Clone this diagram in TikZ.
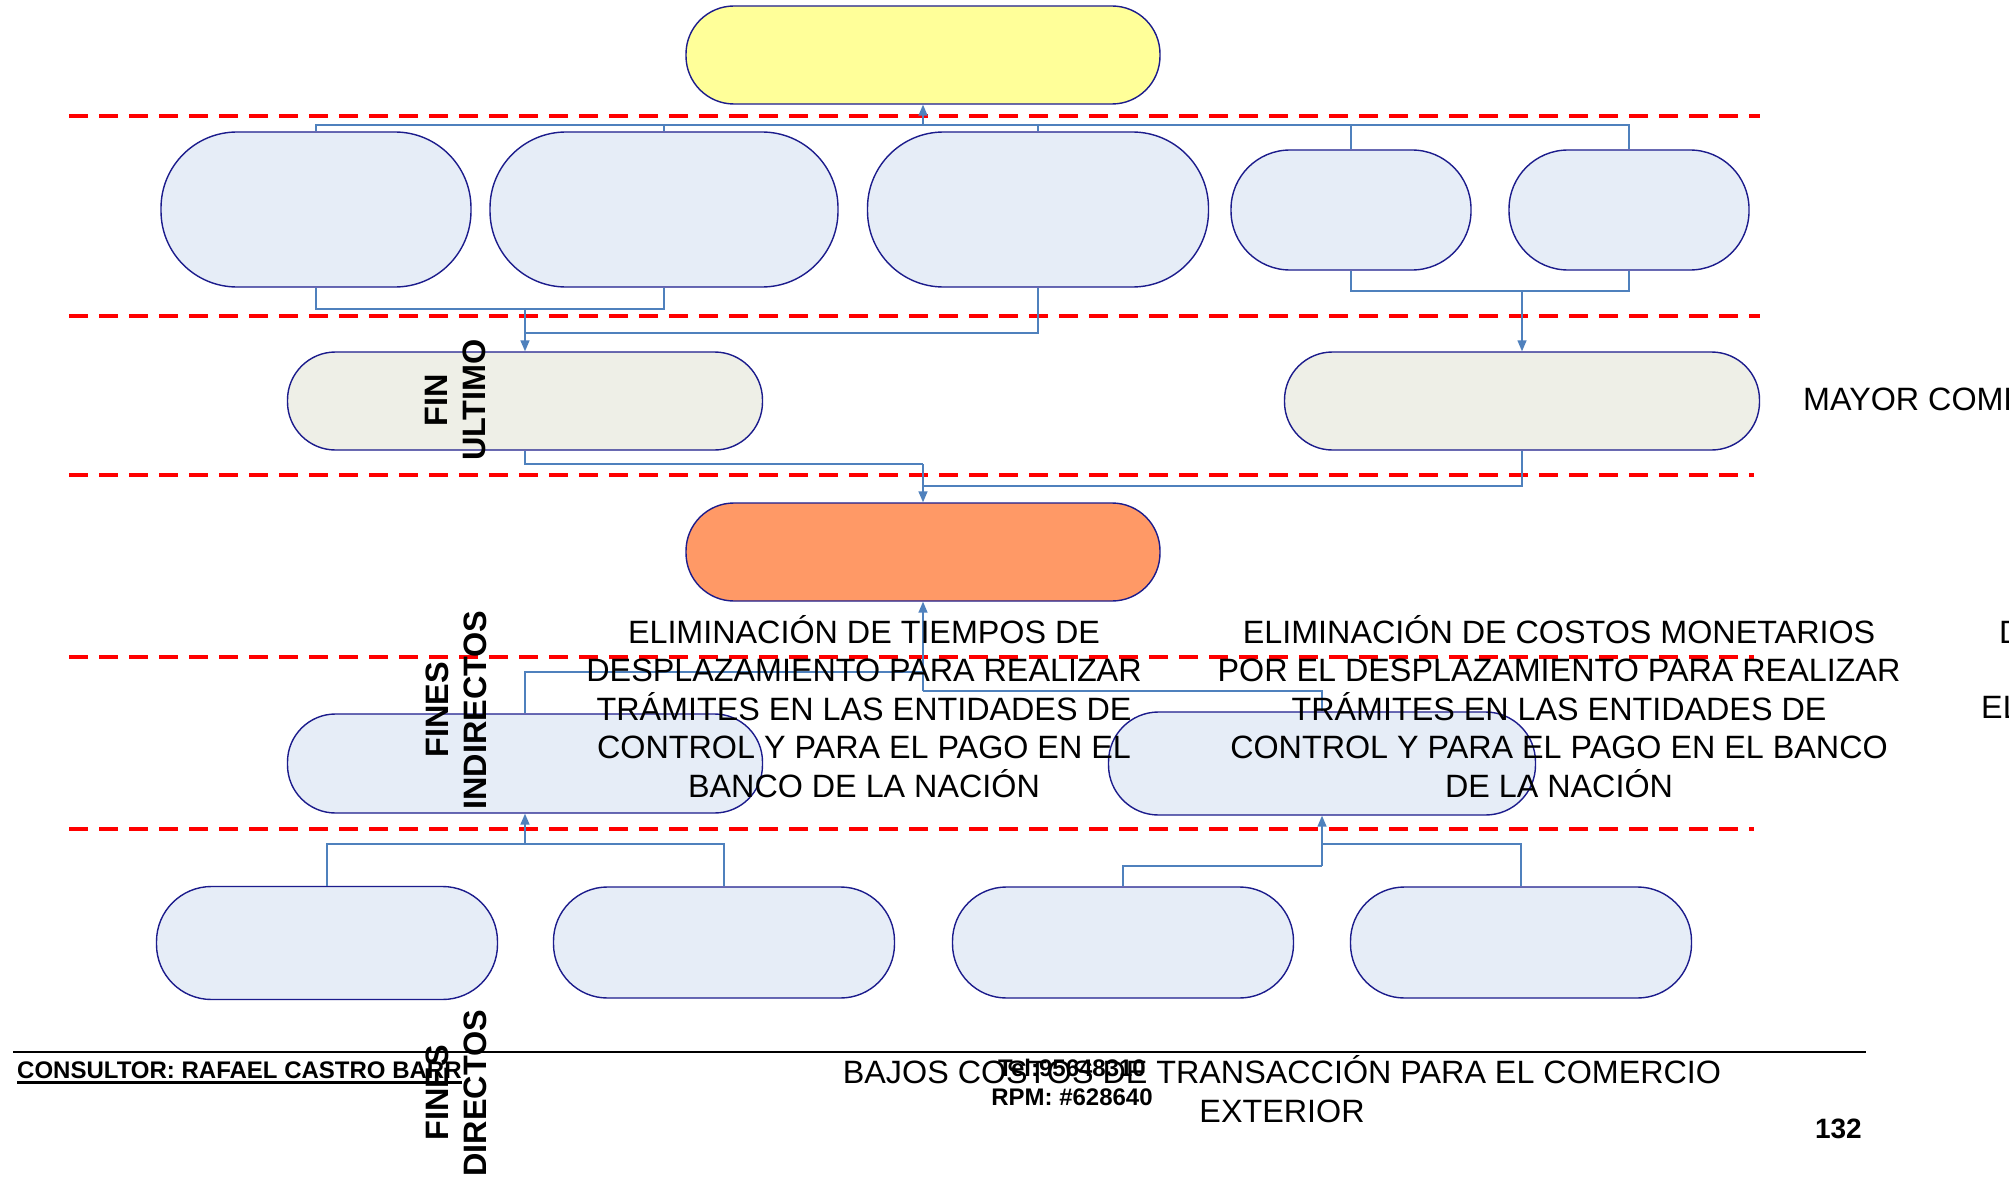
\documentclass[tikz,border=0pt]{standalone}
\usepackage{fontspec}
\setmainfont{Liberation Sans}
\usetikzlibrary{arrows.meta}
\definecolor{ylw}{HTML}{FFFF99}
\definecolor{lblue}{HTML}{E6EDF7}
\definecolor{lgray}{HTML}{EEEFE7}
\definecolor{orng}{HTML}{FF9966}
\definecolor{navyb}{HTML}{1C1C8C}
\definecolor{connc}{HTML}{4F81BD}
\begin{document}
\begin{tikzpicture}[x=1pt,y=-1pt,
  box/.style={draw=navyb, line width=1.4pt, inner sep=0pt},
  cn/.style={draw=connc, line width=1.5pt},
  cna/.style={cn, -{Triangle[length=11pt,width=9pt]}},
  redline/.style={draw=red, line width=3.5pt, dash pattern=on 19pt off 11pt},
  lbl/.style={font=\fontsize{32.3}{38.5}\selectfont, align=center, inner sep=0pt},
  rot/.style={font=\bfseries\fontsize{32.4}{38}\selectfont, rotate=90, align=center, inner sep=0pt}]
\useasboundingbox (0,0) rectangle (2009,1177);
\clip (0,0) rectangle (2009,1177);
\fill[white] (0,0) rectangle (2009,1177);
% red dashed separators
\draw[redline] (69,116) -- (1760,116);
\draw[redline] (69,316) -- (1760,316);
\draw[redline] (69,475) -- (1754,475);
\draw[redline] (69,657) -- (1754,657);
\draw[redline] (69,829) -- (1754,829);
% boxes
\node[box, fill=ylw, minimum width=474pt, minimum height=98pt, rounded corners=48pt] (Y) at (923,55) {};
\node[box, fill=lblue, minimum width=310pt, minimum height=155pt, rounded corners=76pt] (A) at (316,209.5) {};
\node[box, fill=lblue, minimum width=348pt, minimum height=155pt, rounded corners=76pt] (B) at (664,209.5) {};
\node[box, fill=lblue, minimum width=341pt, minimum height=155pt, rounded corners=76pt] (C) at (1038,209.5) {};
\node[box, fill=lblue, minimum width=240pt, minimum height=120pt, rounded corners=59pt] (D) at (1351,210) {};
\node[box, fill=lblue, minimum width=240pt, minimum height=120pt, rounded corners=59pt] (E) at (1629,210) {};
\node[box, fill=lgray, minimum width=475pt, minimum height=98pt, rounded corners=48pt] (G1) at (525,401) {};
\node[box, fill=lgray, minimum width=475pt, minimum height=98pt, rounded corners=48pt] (G2) at (1522,401) {};
\node[box, fill=orng, minimum width=474pt, minimum height=98pt, rounded corners=48pt] (O) at (923,552) {};
\node[box, fill=lblue, minimum width=475pt, minimum height=99pt, rounded corners=48pt] (M1) at (525,763.5) {};
\node[box, fill=lblue, minimum width=427pt, minimum height=103pt, rounded corners=50pt] (M2) at (1322,763.5) {};
\node[box, fill=lblue, minimum width=341pt, minimum height=113pt, rounded corners=55pt] (B1) at (327,943) {};
\node[box, fill=lblue, minimum width=341pt, minimum height=111pt, rounded corners=54pt] (B2) at (724,942.5) {};
\node[box, fill=lblue, minimum width=341pt, minimum height=111pt, rounded corners=54pt] (B3) at (1123,942.5) {};
\node[box, fill=lblue, minimum width=341pt, minimum height=111pt, rounded corners=54pt] (B4) at (1521,942.5) {};
% junction points
\coordinate (j1) at (923,125);
\coordinate (j2) at (525,309);
\coordinate (j2b) at (525,333);
\coordinate (j3) at (1522,291);
\coordinate (j4a) at (923,464);
\coordinate (j4b) at (923,486);
\coordinate (j5a) at (923,672);
\coordinate (j5b) at (923,691);
\coordinate (j6) at (525,844);
\coordinate (j7a) at (1322,844);
\coordinate (j7b) at (1322,866);
% connectors
\draw[cn] (A.north) |- (j1);
\draw[cn] (B.north) |- (j1);
\draw[cn] (C.north) |- (j1);
\draw[cn] (D.north) |- (j1);
\draw[cn] (E.north) |- (j1);
\draw[cna] (j1) -- (Y.south);
\draw[cn] (A.south) |- (j2);
\draw[cn] (B.south) |- (j2);
\draw[cn] (C.south) |- (j2b);
\draw[cna] (j2) -- (G1.north);
\draw[cn] (D.south) |- (j3);
\draw[cn] (E.south) |- (j3);
\draw[cna] (j3) -- (G2.north);
\draw[cn] (G1.south) |- (j4a);
\draw[cn] (G2.south) |- (j4b);
\draw[cna] (j4a) -- (O.north);
\draw[cn] (M1.north) |- (j5a);
\draw[cn] (M2.north) |- (j5b);
\draw[cna] (j5b) -- (O.south);
\draw[cn] (B1.north) |- (j6);
\draw[cn] (B2.north) |- (j6);
\draw[cna] (j6) -- (M1.south);
\draw[cn] (B3.north) |- (j7b);
\draw[cn] (j7b) -- (j7a);
\draw[cn] (B4.north) |- (j7a);
\draw[cna] (j7a) -- (M2.south);
% side labels
\node[rot] (lfin) at (456,400) {FIN\\ULTIMO};
\node[rot] (lfi) at (456,710) {FINES\\INDIRECTOS};
\node[rot] (lfd) at (456,1093) {FINES\\DIRECTOS};
% texts
\node[lbl, anchor=base west] (mayor) at (1803,410) {MAYOR COMPETITIVIDAD};
\node[lbl, anchor=base] (txt1) at (864,797) {ELIMINACIÓN DE TIEMPOS DE\\DESPLAZAMIENTO PARA REALIZAR\\TRÁMITES EN LAS ENTIDADES DE\\CONTROL Y PARA EL PAGO EN EL\\BANCO DE LA NACIÓN};
\node[lbl, anchor=base] (txt2) at (1559,797) {ELIMINACIÓN DE COSTOS MONETARIOS\\POR EL DESPLAZAMIENTO PARA REALIZAR\\TRÁMITES EN LAS ENTIDADES DE\\CONTROL Y PARA EL PAGO EN EL BANCO\\DE LA NACIÓN};
\node[lbl, anchor=base west] (txt3a) at (1999,643) {D};
\node[lbl, anchor=base west] (txt3b) at (1981,718) {EL};
% footer
\draw[black, line width=2.5pt] (13,1052) -- (1866,1052);
\node[font=\bfseries\fontsize{24}{28}\selectfont, inner sep=0pt, anchor=base west] (cons) at (17,1078) {CONSULTOR: RAFAEL CASTRO BARR};
\draw[black, line width=2.5pt] (cons.base west) ++(0,4.5) -- ([yshift=-4.5pt]cons.base east);
\node[lbl, anchor=base] (bajos) at (1282,1122) {BAJOS COSTOS DE TRANSACCIÓN PARA EL COMERCIO\\EXTERIOR};
\node[font=\bfseries\fontsize{24}{29}\selectfont, align=center, inner sep=0pt, anchor=base] (tel) at (1072,1105) {Tel:95648310\\RPM: \#628640};
\node[font=\bfseries\fontsize{28}{32}\selectfont, inner sep=0pt, anchor=base east] (pg) at (1862,1138) {132};
\end{tikzpicture}
\end{document}
